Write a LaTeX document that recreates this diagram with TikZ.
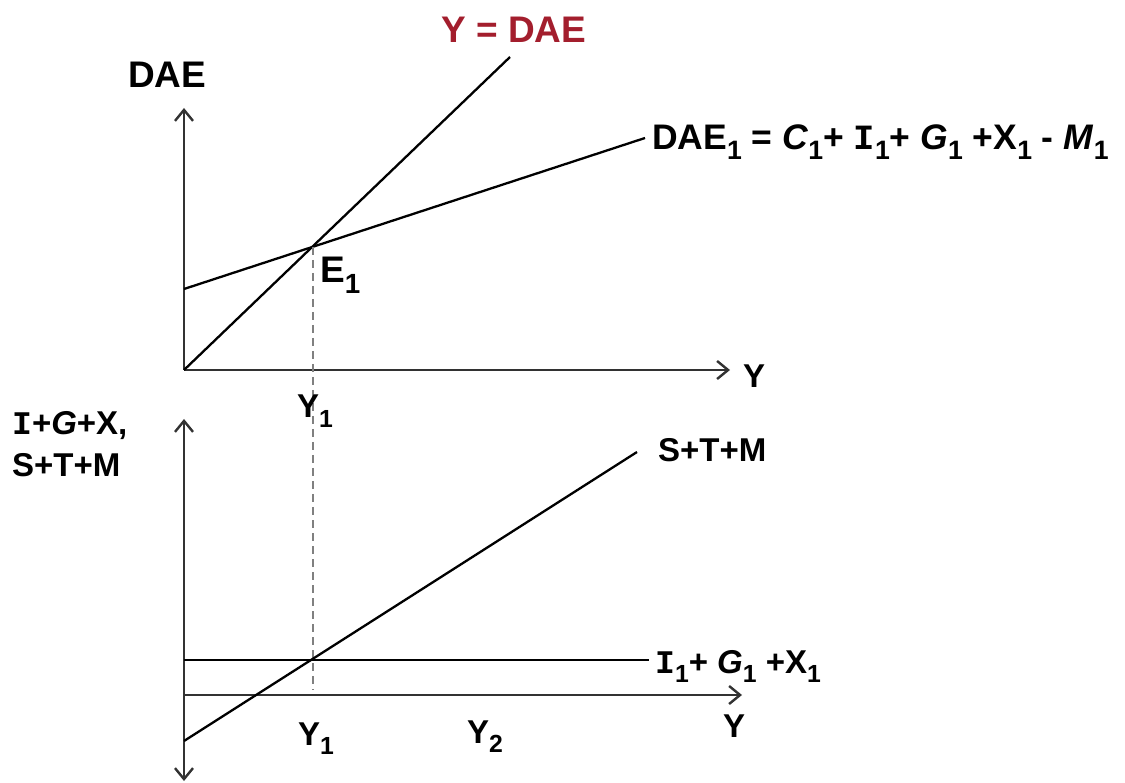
\documentclass[tikz,border=0pt]{standalone}
\usepackage{fontspec}
\usepackage{graphicx}
\setmainfont{Liberation Sans}
\newfontfamily\serifI{Liberation Mono}
\usetikzlibrary{arrows.meta}
\definecolor{ydaered}{RGB}{163,30,45}
\definecolor{axisgray}{RGB}{50,50,50}
\newcommand{\sbs}[1]{\raisebox{-0.28em}{\scalebox{0.75}{#1}}}
\newcommand{\cI}{{\serifI\bfseries I}}
\newcommand{\cit}[1]{\textit{#1}}
\begin{document}
\begin{tikzpicture}[x=1pt,y=-1pt,
  lbl/.style={inner sep=0pt, anchor=base west, font=\fontsize{37}{40}\selectfont\bfseries},
  lblsm/.style={inner sep=0pt, anchor=base west, font=\fontsize{33}{37}\selectfont\bfseries},
  axisline/.style={draw=axisgray, line width=2.4pt},
  tip/.style={-{Straight Barb[length=11pt,width=18pt,line width=2.4pt]}},
  curve/.style={draw=black, line width=2.3pt},
  guide/.style={draw=gray, line width=2pt, dash pattern=on 8pt off 5pt}]
\useasboundingbox (0,0) rectangle (1125,783);

% ---------- top panel ----------
\coordinate (O1) at (184,370);
\coordinate (T1) at (184,108);
\coordinate (R1) at (730,370);
\coordinate (Ytop) at (510,57);
\coordinate (Dl) at (184,289);
\coordinate (Dr) at (645,138);
\coordinate (E1) at (313,247);

\draw[axisline,tip] (O1) -- (T1);
\draw[axisline,tip] (O1) -- (R1);
\draw[curve] (O1) -- (Ytop);
\draw[curve] (Dl) -- (Dr);

\node[lbl] (daeax) at (128,88) {DAE};
\node[lbl, text=ydaered] (ydae) at (441,43) {Y = DAE};
\node[lbl] (e1lbl) at (320,283) {E\sbs{1}};
\node[lbl, font=\fontsize{35.5}{40}\selectfont\bfseries] (dae1lbl) at (652,150) {DAE\sbs{1} = \cit{C}\sbs{1}+ \cI\sbs{1}+ \cit{G}\sbs{1} +X\sbs{1} - \cit{M}\sbs{1}};
\node[lblsm] (yax1) at (743,388) {Y};

% ---------- bottom panel ----------
\coordinate (O2) at (184,695);
\coordinate (B2) at (184,781);
\coordinate (T2) at (184,419);
\coordinate (R2) at (742,695);
\coordinate (Sl) at (184,741);
\coordinate (Sr) at (637,452);
\coordinate (Il) at (184,660);
\coordinate (Ir) at (649,660);
\coordinate (E2) at (313,690);

\draw[guide] (E1) -- (E2);
\draw[axisline,tip] (O2) -- (B2);
\draw[axisline,tip] (O2) -- (T2);
\draw[axisline,tip] (O2) -- (R2);
\draw[curve] (Sl) -- (Sr);
\draw[curve] (Il) -- (Ir);

\node[lblsm] (y1top) at (297,418) {Y\sbs{1}};
\node[lblsm] (igx) at (12,435) {\cI+\cit{G}+X,};
\node[lblsm] (stmax) at (12,476) {S+T+M};
\node[lblsm] (stm) at (658,462) {S+T+M};
\node[lblsm] (igx1) at (655,673) {\cI\sbs{1}+ \cit{G}\sbs{1} +X\sbs{1}};
\node[lblsm] (y1bot) at (298,745) {Y\sbs{1}};
\node[lblsm] (y2bot) at (467,743) {Y\sbs{2}};
\node[lblsm] (yax2) at (723,737) {Y};
\end{tikzpicture}
\end{document}
